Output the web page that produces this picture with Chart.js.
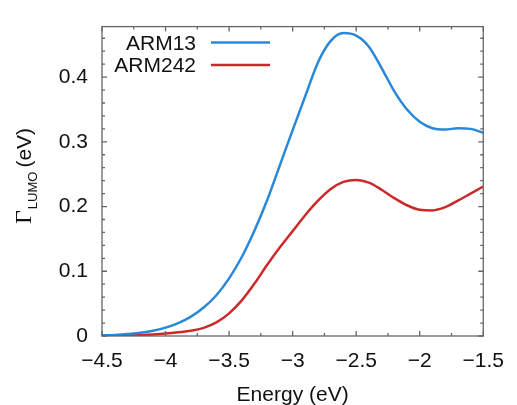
<!DOCTYPE html>
<html>
<head>
<meta charset="utf-8">
<script src="https://cdn.jsdelivr.net/npm/chart.js@4"></script>
<style>
html, body { margin: 0; padding: 0; background: #fff; }
</style>
</head>
<body>
<canvas id="gammaChart" width="517" height="405"></canvas>
<script>
// values
const energy = [-4.5, -4.4, -4.3, -4.2, -4.1, -4.0, -3.9, -3.8, -3.7, -3.6, -3.5,
  -3.4, -3.3, -3.2, -3.1, -3.0, -2.9, -2.8, -2.7, -2.6, -2.5,
  -2.4, -2.3, -2.2, -2.1, -2.0, -1.9, -1.8, -1.7, -1.6, -1.5];
const arm13 = [0.001, 0.0017, 0.003, 0.005, 0.008, 0.013, 0.020, 0.030, 0.044, 0.063, 0.089,
  0.122, 0.163, 0.210, 0.264, 0.318, 0.371, 0.423, 0.456, 0.468, 0.464,
  0.447, 0.414, 0.378, 0.350, 0.331, 0.321, 0.319, 0.321, 0.320, 0.314];
const arm242 = [0.0003, 0.0006, 0.001, 0.0016, 0.0025, 0.0038, 0.0057, 0.008, 0.0125, 0.021, 0.035,
  0.055, 0.081, 0.110, 0.137, 0.162, 0.187, 0.209, 0.227, 0.238, 0.241,
  0.237, 0.226, 0.213, 0.202, 0.195, 0.194, 0.199, 0.209, 0.220, 0.231];
const seriesNames = ['ARM13', 'ARM242'];
const xTicks = [-4.5, -4, -3.5, -3, -2.5, -2, -1.5];
const yTicks = [0, 0.1, 0.2, 0.3, 0.4];

const blue = '#2a88d8';
const red = '#cc2a2a';
const axisColor = '#666';
const font = 'Liberation Sans';

function toPoints(ys) {
  return energy.map((e, i) => ({ x: e, y: ys[i] }));
}
function minus(v) {
  return String(v).replace('-', '\u2212');
}

// gnuplot style frame: box, inward ticks on all sides, legend, y title with subscript
const framePlugin = {
  id: 'frame',
  afterDraw(chart) {
    const ctx = chart.ctx;
    const a = chart.chartArea;
    const xs = chart.scales.x, ys = chart.scales.y;
    ctx.save();
    ctx.strokeStyle = axisColor;
    ctx.lineWidth = 1.3;
    ctx.strokeRect(a.left, a.top, a.right - a.left, a.bottom - a.top);

    ctx.beginPath();
    // x ticks, minor every half step
    for (let i = 0; i < xTicks.length; i++) {
      const p = xs.getPixelForValue(xTicks[i]);
      ctx.moveTo(p, a.bottom); ctx.lineTo(p, a.bottom - 5);
      ctx.moveTo(p, a.top); ctx.lineTo(p, a.top + 5);
      if (i < xTicks.length - 1) {
        const m = xs.getPixelForValue((xTicks[i] + xTicks[i + 1]) / 2);
        ctx.moveTo(m, a.bottom); ctx.lineTo(m, a.bottom - 3);
        ctx.moveTo(m, a.top); ctx.lineTo(m, a.top + 3);
      }
    }
    // y ticks, 4 minors between majors
    const ystep = yTicks[1] - yTicks[0];
    for (let v = 0; v <= ys.max + 1e-9; v += ystep / 5) {
      const p = ys.getPixelForValue(v);
      const major = Math.abs(v / ystep - Math.round(v / ystep)) < 1e-6;
      const len = major ? 5 : 3;
      ctx.moveTo(a.left, p); ctx.lineTo(a.left + len, p);
      ctx.moveTo(a.right, p); ctx.lineTo(a.right - len, p);
    }
    ctx.stroke();

    // legend: text then line sample
    ctx.fillStyle = '#111';
    ctx.font = '21px "' + font + '"';
    ctx.textAlign = 'right';
    ctx.textBaseline = 'alphabetic';
    chart.data.datasets.forEach((ds, i) => {
      const y = a.top + 16 + i * 22.3;
      ctx.fillText(ds.label, 196, y + 7.5);
      ctx.strokeStyle = ds.borderColor;
      ctx.lineWidth = 2.5;
      ctx.beginPath();
      ctx.moveTo(211, y); ctx.lineTo(270, y);
      ctx.stroke();
    });

    // x title
    ctx.textAlign = 'center';
    ctx.font = '21px "' + font + '"';
    ctx.fillText('Energy (eV)', (a.left + a.right) / 2, 401);

    // y title, rotated, with subscript
    ctx.translate(31, 0);
    ctx.rotate(-Math.PI / 2);
    ctx.textAlign = 'left';
    let yy = -224;
    ctx.font = '24px "Liberation Serif"';
    ctx.fillText('\u0393', yy, 0);
    yy += ctx.measureText('\u0393').width + 1;
    ctx.font = '13px "' + font + '"';
    ctx.fillText('LUMO', yy, 6);
    yy += ctx.measureText('LUMO').width + 4;
    ctx.font = '21px "' + font + '"';
    ctx.fillText('(eV)', yy, 0);
    ctx.restore();
  }
};

new Chart(document.getElementById('gammaChart'), {
  type: 'line',
  data: {
    datasets: [
      { label: seriesNames[0], data: toPoints(arm13), borderColor: blue, borderWidth: 2.5, pointRadius: 0, cubicInterpolationMode: 'monotone', fill: false },
      { label: seriesNames[1], data: toPoints(arm242), borderColor: red, borderWidth: 2.5, pointRadius: 0, cubicInterpolationMode: 'monotone', fill: false }
    ]
  },
  options: {
    responsive: false,
    animation: false,
    layout: { padding: { top: 14, right: 22, left: 0, bottom: 0 } },
    plugins: { legend: { display: false }, tooltip: { enabled: false } },
    scales: {
      x: {
        type: 'linear',
        min: -4.5,
        max: -1.5,
        afterBuildTicks: s => { s.ticks = xTicks.map(v => ({ value: v })); },
        afterFit: s => { s.height = 69; },
        grid: { display: false, drawTicks: false },
        border: { display: false },
        ticks: { padding: 13, color: '#111', font: { family: font, size: 21 }, callback: v => minus(v) }
      },
      y: {
        min: 0,
        max: 0.478,
        afterBuildTicks: s => { s.ticks = yTicks.map(v => ({ value: v })); },
        afterFit: s => { s.width = 102; },
        grid: { display: false, drawTicks: false },
        border: { display: false },
        ticks: { padding: 14, color: '#111', font: { family: font, size: 21 }, callback: v => String(+v.toFixed(1)) }
      }
    }
  },
  plugins: [framePlugin]
});
</script>
</body>
</html>
